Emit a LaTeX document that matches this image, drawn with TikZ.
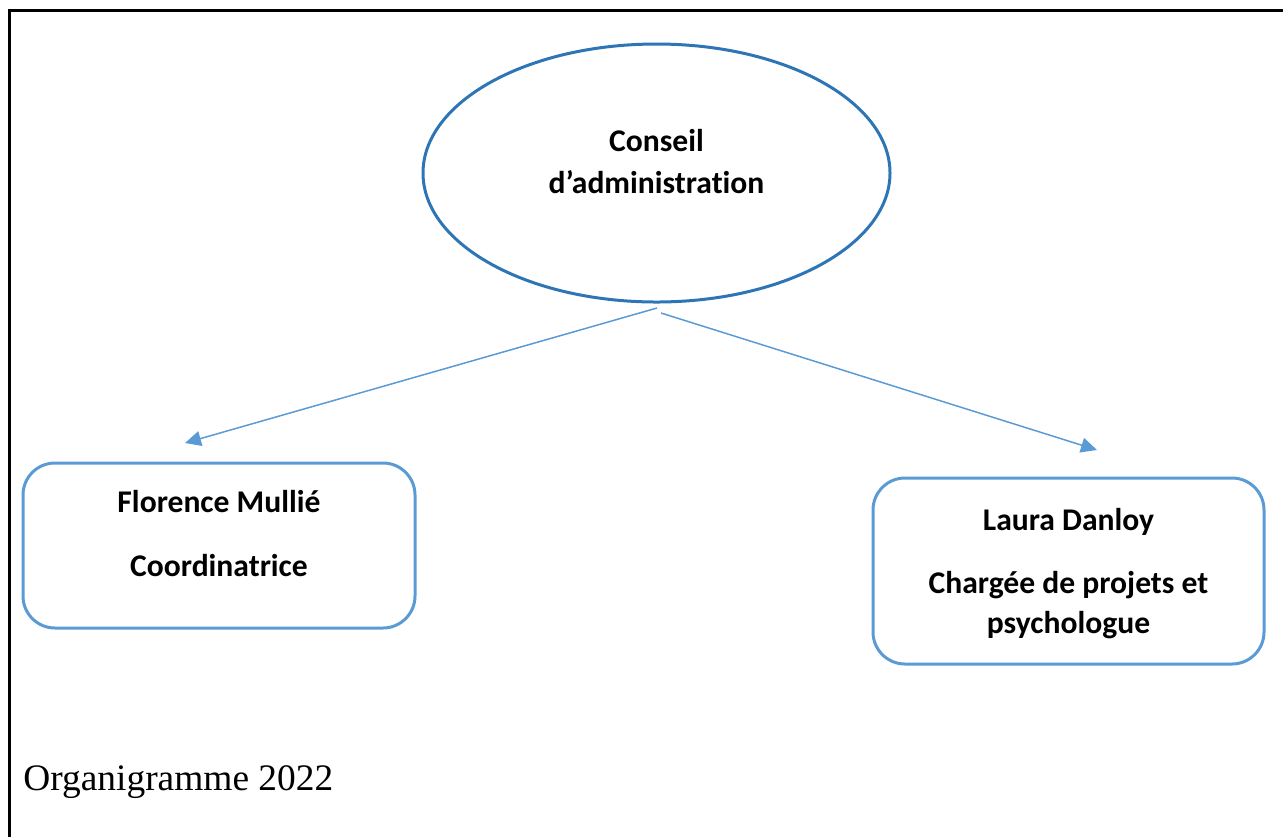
\documentclass[tikz,border=0pt]{standalone}
\usepackage{fontspec}
\setmainfont{Liberation Serif}
\newfontfamily\calibri[Ligatures=NoCommon]{Carlito}
\usetikzlibrary{shapes.geometric,arrows.meta}

\definecolor{caBlue}{RGB}{46,117,182}
\definecolor{boxBlue}{RGB}{91,155,213}

\begin{document}
\begin{tikzpicture}[x=0.5pt,y=-0.5pt]

      \useasboundingbox (0,0) rectangle (1283,837);
      \draw[line width=1.5pt] (9.5,837) -- (9.5,10) -- (1283,10);

      \begin{scope}[every node/.style={draw, align=center, inner sep=0pt,
          font=\calibri\bfseries\fontsize{15.8}{19}\selectfont}]
        \node (ca) [ellipse, caBlue, text=black, line width=1.5pt,
          minimum width=233.5pt, minimum height=129pt, text depth=12pt]
          at (656.5,173) {Conseil\\[2pt] d’administration};
        \node (fm) [rectangle, rounded corners=16pt, boxBlue, text=black,
          line width=1.5pt, minimum width=196pt, minimum height=82.5pt,
          text depth=12pt]
          at (219,545.5) {Florence Mullié\\[13pt] Coordinatrice};
        \node (ld) [rectangle, rounded corners=16pt, boxBlue, text=black,
          line width=1.5pt, minimum width=195.5pt, minimum height=93pt,
          text depth=-1pt]
          at (1068.5,571) {Laura Danloy\\[12.5pt] Chargée de projets et\\[1pt] psychologue};
      \end{scope}

      \coordinate (caL) at (657,308);
      \coordinate (caR) at (661,313);
      \coordinate (fmTip) at (185,443);
      \coordinate (ldTip) at (1097,450);

      \begin{scope}[every edge/.style={draw, boxBlue, line width=0.75pt,
          -{Triangle[length=8pt,width=7.5pt]}}]
        \path (caL) edge (fmTip);
        \path (caR) edge (ldTip);
      \end{scope}

      \node (title) [anchor=base west, inner sep=0pt,
        font=\fontsize{18.7}{22}\selectfont]
        at (23,790) {Organigramme 2022};

    \end{tikzpicture}
\end{document}
